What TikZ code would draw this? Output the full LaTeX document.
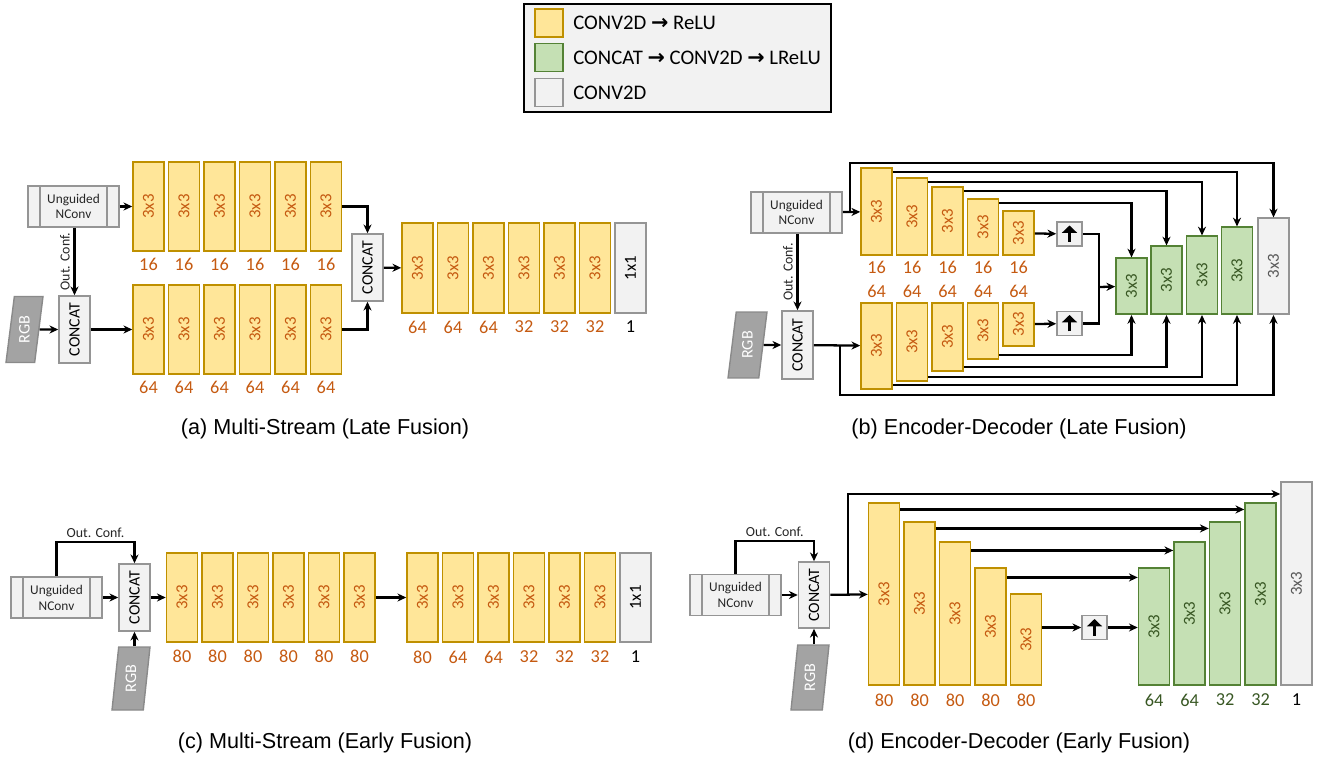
\documentclass[tikz,border=0pt]{standalone}
\usepackage{fontspec}
\setmainfont{Carlito}
\newfontfamily\capfont{Liberation Sans}
\newfontfamily\symfont{DejaVu Sans}
\usetikzlibrary{arrows.meta, shapes.geometric, positioning}

\definecolor{convfill}{HTML}{FFE699}
\definecolor{convline}{HTML}{BF9000}
\definecolor{convtext}{HTML}{C55A11}
\definecolor{catfill}{HTML}{C5E0B4}
\definecolor{catline}{HTML}{548235}
\definecolor{cattext}{HTML}{385723}
\definecolor{plainfill}{HTML}{F2F2F2}
\definecolor{plainline}{HTML}{959595}
\definecolor{plaintext}{HTML}{595959}
\definecolor{rgbfill}{HTML}{A3A3A3}
\definecolor{rgbline}{HTML}{8A8A8A}

\newcommand{\vtext}[1]{\rotatebox{90}{#1}}

\tikzset{
  conv/.style={draw=convline, fill=convfill, line width=0.9pt, minimum width=0.62cm,
    inner sep=0pt, text=convtext, font=\fontsize{9.6}{10}\selectfont},
  cat/.style={draw=catline, fill=catfill, line width=0.9pt, minimum width=0.62cm,
    inner sep=0pt, text=cattext, font=\fontsize{9.6}{10}\selectfont},
  plain/.style={draw=plainline, fill=plainfill, line width=0.9pt, minimum width=0.62cm,
    inner sep=0pt, text=plaintext, font=\fontsize{9.6}{10}\selectfont},
  concatbox/.style={plain, minimum height=1.34cm, text=black, font=\fontsize{9}{10}\selectfont},
  ungbox/.style={draw=plainline, fill=plainfill, line width=0.9pt, minimum width=1.82cm,
    minimum height=0.82cm, inner sep=0pt, align=center, text=black!85,
    font=\fontsize{7.6}{9}\selectfont,
    path picture={\draw[plainline, line width=0.9pt]
      ([xshift=0.24cm]path picture bounding box.north west) -- ([xshift=0.24cm]path picture bounding box.south west)
      ([xshift=-0.24cm]path picture bounding box.north east) -- ([xshift=-0.24cm]path picture bounding box.south east);}},
  rgbbox/.style={trapezium, trapezium stretches=true, draw=rgbline, fill=rgbfill, line width=0.8pt,
    minimum width=0.76cm, minimum height=1.32cm, inner sep=0pt, text=white,
    font=\fontsize{9.2}{10}\selectfont},
  upbox/.style={plain, minimum width=0.5cm, minimum height=0.48cm,
    path picture={\draw[black, line width=1.9pt, -{Triangle[length=4.2pt, width=8.5pt]}]
      ([yshift=-0.16cm]path picture bounding box.center) -- ([yshift=0.17cm]path picture bounding box.center);}},
  num/.style={text=convtext, inner sep=0pt, font=\fontsize{10.4}{11}\selectfont},
  numg/.style={num, text=cattext},
  conf/.style={font=\fontsize{7.9}{9}\selectfont, text=black!85, inner sep=2pt},
  arr/.style={line width=1.3pt, -{Stealth[length=5pt, width=4.6pt]}},
  link/.style={line width=1.3pt},
  caption/.style={font=\capfont\fontsize{12.3}{14}\selectfont},
  legtext/.style={anchor=west, inner sep=0pt, font=\fontsize{11.8}{13}\selectfont}
}

\begin{document}
\begin{tikzpicture}[x=0.02cm, y=-0.02cm]
\useasboundingbox (0,0) rectangle (1318,760);

% legend
\node[draw=black, fill=plainfill, line width=1pt, minimum width=6.14cm, minimum height=2.16cm] (leg) at (677.5,58) {};
\node[conv, minimum width=0.56cm, minimum height=0.56cm] (swY) at (549,23) {};
\node[cat, minimum width=0.56cm, minimum height=0.56cm] (swG) at (549,57.5) {};
\node[plain, minimum width=0.56cm, minimum height=0.56cm] (swP) at (549,92.5) {};
\node[legtext] (lY) at (573,23) {CONV2D {\symfont\bfseries →} ReLU};
\node[legtext] (lG) at (573,57.5) {CONCAT {\symfont\bfseries →} CONV2D {\symfont\bfseries →} LReLU};
\node[legtext] (lP) at (573,92.5) {CONV2D};

% (a) multi-stream, late fusion
\node[ungbox] (ugA) at (73.5,206.5) {Unguided\\NConv};
\foreach \i in {1,...,6} {
  \node[conv, minimum height=1.78cm] (tA\i) at (113+35.5*\i,206.5) {\vtext{3x3}};
  \node[num] (ntA\i) at (113+35.5*\i,264) {16};
  \node[conv, minimum height=1.78cm] (bA\i) at (113+35.5*\i,329.5) {\vtext{3x3}};
  \node[num] (nbA\i) at (113+35.5*\i,387) {64};
}
\node[concatbox] (ccA) at (74.5,329.5) {\vtext{CONCAT}};
\node[rgbbox, trapezium left angle=81, trapezium right angle=99, minimum width=0.74cm] (rgbA) at (24.5,329.5) {\vtext{RGB}};
\node[concatbox] (ccA2) at (367.5,267.5) {\vtext{CONCAT}};
\foreach \i/\n in {1/64,2/64,3/64,4/32,5/32,6/32} {
  \node[conv, minimum height=1.8cm] (rA\i) at (382+35.5*\i,268) {\vtext{3x3}};
  \node[num] (nrA\i) at (382+35.5*\i,327) {\n};
}
\node[plain, minimum height=1.8cm, text=black] (oA) at (630.5,268) {\vtext{1x1}};
\node[num, text=black] (noA) at (630.5,327) {1};
\draw[arr] (ugA) -- (tA1);
\draw[arr] (ccA.north |- ugA.south) -- node[midway, rotate=90, anchor=south, conf] {Out. Conf.} (ccA.north);
\draw[arr] (rgbA) -- (ccA);
\draw[arr] (ccA) -- (bA1);
\draw[arr] (tA6.east) -| (ccA2.north);
\draw[arr] (bA6.east) -| (ccA2.south);
\draw[arr] (ccA2) -- (rA1);
\node[caption] (capA) at (325,429) {(a) Multi-Stream (Late Fusion)};

% (b) encoder-decoder, late fusion
\node[ungbox] (ugB) at (796.5,212.5) {Unguided\\NConv};
\node[concatbox, minimum height=1.36cm] (ccB) at (797.5,345) {\vtext{CONCAT}};
\node[rgbbox, trapezium left angle=82, trapezium right angle=98, minimum width=0.78cm] (rgbB) at (747.5,345) {\vtext{RGB}};
\foreach \i/\h in {1/1.74,2/1.54,3/1.36,4/1.12,5/0.88} {
  \node[conv, anchor=south, minimum height=\h cm] (tB\i) at (841+35.5*\i,256) {\vtext{3x3}};
  \node[num] (ntB\i) at (841+35.5*\i,267) {16};
  \node[num] (nbB\i) at (841+35.5*\i,291) {64};
}
\foreach \i/\h in {1/1.72,2/1.56,3/1.36,4/1.12,5/0.86}
  \node[conv, anchor=north, minimum height=\h cm] (bB\i) at (841+35.5*\i,302) {\vtext{3x3}};
\foreach \i/\x/\h in {1/1131.5/1.12,2/1166.5/1.36,3/1202/1.56,4/1237/1.74}
  \node[cat, anchor=south, minimum height=\h cm] (gB\i) at (\x,315) {\vtext{3x3}};
\node[plain, anchor=south, minimum height=1.92cm] (oB) at (1273.5,315) {\vtext{3x3}};
\node[upbox] (uB1) at (1069.5,234) {};
\node[upbox] (uB2) at (1069.5,323.5) {};
\coordinate (mB) at (1099,287);
\coordinate (brB) at (850,212.5);
\coordinate (topB) at (850,163);
\coordinate (brB2) at (840,345);
\coordinate (botB) at (840,395);
\draw[arr] (ugB) -- (tB1);
\draw[arr] (ccB.north |- ugB.south) -- node[midway, rotate=90, anchor=south, conf] {Out. Conf.} (ccB.north);
\draw[arr] (rgbB) -- (ccB);
\draw[arr] (ccB) -- (bB1);
\draw[arr] (brB) -- (topB) -| (oB.north);
\draw[arr] (brB2) -- (botB) -| (oB.south);
\foreach \i/\g in {1/4,2/3,3/2,4/1} {
  \draw[arr] ([yshift=-0.09cm]tB\i.north east) -| (gB\g.north);
  \draw[arr] ([yshift=0.09cm]bB\i.south east) -| (gB\g.south);
}
\draw[arr] (tB5) -- (uB1);
\draw[arr] (bB5) -- (uB2);
\draw[link] (uB1) -| (mB);
\draw[link] (uB2) -| (mB);
\draw[arr] (mB) -- (gB1);
\node[caption] (capB) at (1019,429) {(b) Encoder-Decoder (Late Fusion)};

% (c) multi-stream, early fusion
\node[ungbox] (ugC) at (56.5,597.5) {Unguided\\NConv};
\node[concatbox] (ccC) at (134.5,597.5) {\vtext{CONCAT}};
\node[rgbbox, trapezium left angle=84, trapezium right angle=96, minimum width=0.76cm, minimum height=1.26cm] (rgbC) at (131,678.5) {\vtext{RGB}};
\foreach \i in {1,...,6} {
  \node[conv, minimum height=1.78cm] (lC\i) at (146.5+35.5*\i,597.5) {\vtext{3x3}};
  \node[num] (nlC\i) at (146.5+35.5*\i,656) {80};
}
\foreach \i/\n in {1/80,2/64,3/64,4/32,5/32,6/32} {
  \node[conv, minimum height=1.78cm] (rC\i) at (387+35.5*\i,597.5) {\vtext{3x3}};
  \node[num] (nrC\i) at (387+35.5*\i,657) {\n};
}
\node[plain, minimum height=1.78cm, text=black] (oC) at (635.5,597.5) {\vtext{1x1}};
\node[num, text=black] (noC) at (635.5,657) {1};
\coordinate (ocC) at (56.5,542);
\draw[arr] (ugC.north) -- (ocC) -| node[pos=0.25, above, conf] {Out. Conf.} (ccC.north);
\draw[arr] (ugC) -- (ccC);
\draw[arr] (ccC.south |- rgbC.north) -- (ccC.south);
\draw[arr] (ccC) -- (lC1);
\draw[arr] (lC6) -- (rC1);
\node[caption] (capC) at (325,743) {(c) Multi-Stream (Early Fusion)};

% (d) encoder-decoder, early fusion
\node[ungbox] (ugD) at (735.5,595) {Unguided\\NConv};
\node[concatbox, minimum height=1.32cm] (ccD) at (814,595) {\vtext{CONCAT}};
\node[rgbbox, trapezium left angle=84, trapezium right angle=96, minimum width=0.76cm, minimum height=1.3cm] (rgbD) at (810,677.5) {\vtext{RGB}};
\foreach \i/\h in {1/3.64,2/3.26,3/2.86,4/2.34,5/1.82} {
  \node[conv, anchor=south, minimum height=\h cm] (eD\i) at (848.5+35.5*\i,686) {\vtext{3x3}};
  \node[num] (neD\i) at (848.5+35.5*\i,700) {80};
}
\foreach \i/\h/\n in {1/2.34/64,2/2.86/64,3/3.26/32,4/3.64/32} {
  \node[cat, anchor=south, minimum height=\h cm] (gD\i) at (1118.5+35.5*\i,686) {\vtext{3x3}};
  \node[numg] (ngD\i) at (1118.5+35.5*\i,700) {\n};
}
\node[plain, anchor=south, minimum height=4.06cm] (oD) at (1296.5,686) {\vtext{3x3}};
\node[num, text=black] (noD) at (1296.5,700) {1};
\node[upbox] (uD) at (1094.5,627.5) {};
\coordinate (ocD) at (735.5,541);
\coordinate (brD) at (848,595);
\coordinate (topD) at (848,494);
\draw[arr] (ugD.north) -- (ocD) -| node[pos=0.25, above, conf] {Out. Conf.} (ccD.north);
\draw[arr] (ugD) -- (ccD);
\draw[arr] (ccD.south |- rgbD.north) -- (ccD.south);
\draw[arr] (ccD) -- (eD1);
\draw[arr] (brD) -- (topD) -- (topD -| oD.west);
\foreach \i/\g/\s in {1/4/0.14,2/3/0.14,3/2/0.18,4/1/0.2}
  \draw[arr] ([yshift=-\s cm]eD\i.north east) -- ([yshift=-\s cm]gD\g.north west);
\draw[arr] (eD5.east |- uD.west) -- (uD.west);
\draw[arr] (uD.east) -- (uD.east -| gD1.west);
\node[caption] (capD) at (1019,743) {(d) Encoder-Decoder (Early Fusion)};
\end{tikzpicture}
\end{document}
